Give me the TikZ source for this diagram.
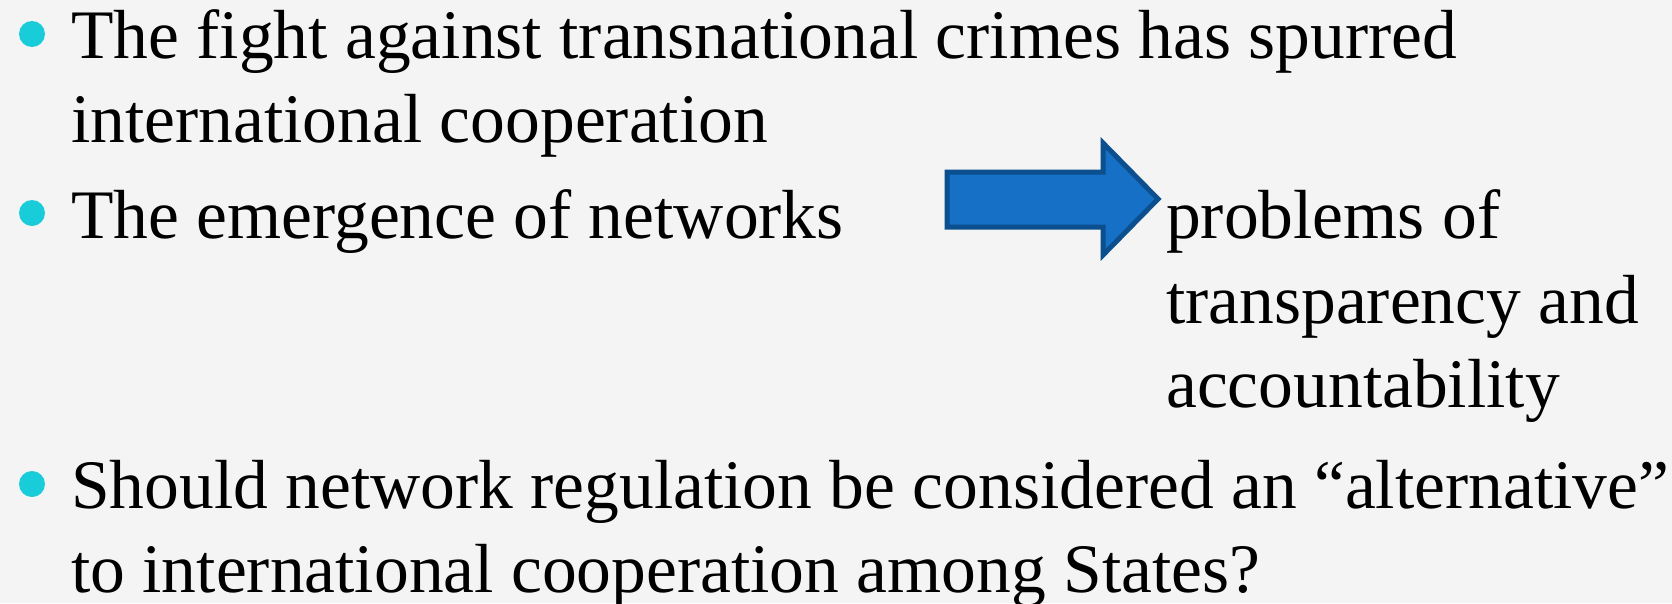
\documentclass[tikz,border=0pt]{standalone}
\usepackage{fontspec}
\setmainfont{Liberation Serif}
\definecolor{bgcol}{HTML}{F4F4F4}
\definecolor{bulletcol}{HTML}{18CCDA}
\definecolor{arrowfill}{HTML}{1670C6}
\definecolor{arrowline}{HTML}{0B4F8F}
\tikzset{
  txt/.style={anchor=base west, inner sep=0pt, font=\fontsize{69.5}{84}\selectfont, text=black},
  bulletdot/.style={circle, fill=bulletcol, minimum size=26pt, inner sep=0pt},
}
\begin{document}
\begin{tikzpicture}[x=1pt,y=-1pt]
\fill[bgcol] (0,0) rectangle (1672,603);
\useasboundingbox (0,0) rectangle (1672,603);
\node[bulletdot] (b1) at (32,34) {};
\node[bulletdot] (b2) at (32,213) {};
\node[bulletdot] (b3) at (32,484) {};
\node[txt] (l1) at (71,58) {The fight against transnational crimes has spurred};
\node[txt] (l2) at (71,142) {international cooperation};
\node[txt] (l3) at (71,238) {The emergence of networks};
\node[txt] (r1) at (1166,238) {problems of};
\node[txt] (r2) at (1166,323) {transparency and};
\node[txt] (r3) at (1166,407) {accountability};
\node[txt] (l4) at (71,508) {Should network regulation be considered an “alternative”};
\node[txt] (l5) at (71,592) {to international cooperation among States?};
\draw[fill=arrowfill, draw=arrowline, line width=5pt, line join=miter]
  (947,172) -- (1103,172) -- (1103,143) -- (1158,199) -- (1103,255) -- (1103,227) -- (947,227) -- cycle;
\end{tikzpicture}
\end{document}
